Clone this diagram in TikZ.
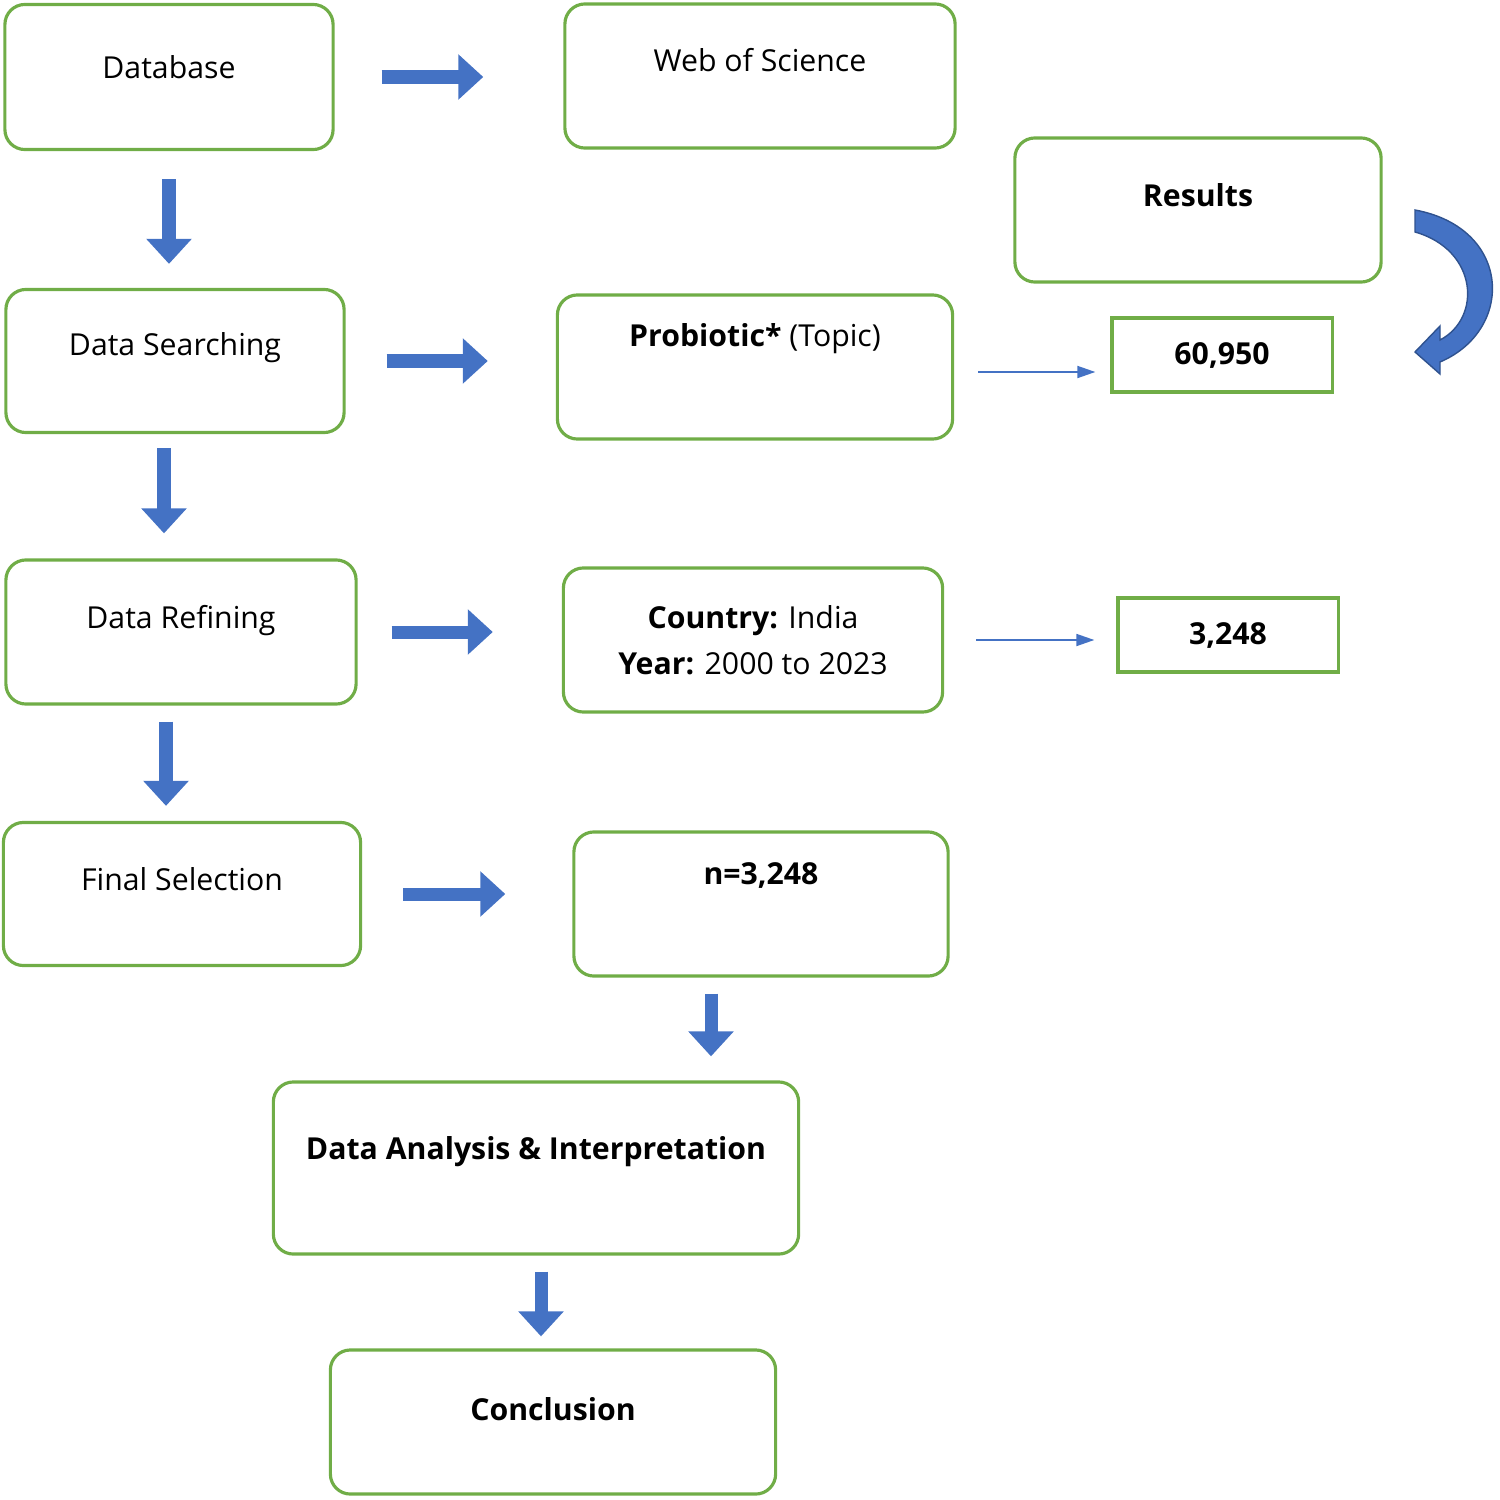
\documentclass[tikz,border=0pt]{standalone}
\usepackage{fontspec}
\setmainfont{Open Sans}
\usetikzlibrary{arrows.meta}
\definecolor{boxgreen}{HTML}{70AD47}
\definecolor{arrowblue}{HTML}{4472C4}
\definecolor{arrowdark}{HTML}{2F528F}

\begin{document}
\begin{tikzpicture}[x=0.01cm,y=-0.01cm
  ,font=\fontsize{8.6}{11}\selectfont
  ,stepbox/.style={draw=boxgreen,line width=0.9pt,rounded corners=0.2cm,
    inner sep=0pt,minimum width=#1}
  ,countbox/.style={draw=boxgreen,line width=0.9pt,inner sep=0pt,
    minimum width=2.2cm,minimum height=0.74cm,font=\fontsize{8.6}{11}\selectfont\bfseries}
  ,bigarrow/.style={draw=arrowblue,line width=0.13cm,
    -{Triangle[length=0.25cm,width=0.44cm]}}
  ,thinarrow/.style={arrowblue,line width=0.5pt,-{Triangle[length=0.18cm,width=0.12cm]}}
  ]
  \useasboundingbox (0,0) rectangle (1499,1500);

  % left column
  \node[stepbox=3.28cm,minimum height=1.45cm,label={[yshift=0.1cm]center:Database}]
    (db) at (169,77) {};
  \node[stepbox=3.38cm,minimum height=1.43cm,label={[yshift=0.13cm]center:Data Searching}]
    (search) at (175,361) {};
  \node[stepbox=3.5cm,minimum height=1.44cm,label={[yshift=0.11cm]center:Data Refining}]
    (refine) at (181,632) {};
  \node[stepbox=3.57cm,minimum height=1.43cm,label={[yshift=0.15cm]center:Final Selection}]
    (final) at (182,894) {};

  % middle column
  \node[stepbox=3.9cm,minimum height=1.44cm,label={[yshift=0.16cm]center:Web of Science}]
    (wos) at (760,76) {};
  \node[stepbox=3.95cm,minimum height=1.44cm,
    label={[yshift=0.28cm]center:\textbf{Probiotic*} (Topic)}]
    (topic) at (755,367) {};
  \node[stepbox=3.79cm,minimum height=1.44cm,
    label={[yshift=0.0cm,align=center]center:\textbf{Country:} India\\[2pt]\textbf{Year:} 2000 to 2023}]
    (refined) at (753,640) {};
  \node[stepbox=3.74cm,minimum height=1.44cm,label={[yshift=0.28cm]center:\textbf{n=3,248}}]
    (nsel) at (761,904) {};
  \node[stepbox=5.25cm,minimum height=1.72cm,
    label={[yshift=0.16cm]center:\textbf{Data Analysis \& Interpretation}}]
    (analysis) at (536,1168) {};
  \node[stepbox=4.45cm,minimum height=1.44cm,label={[yshift=0.13cm]center:\textbf{Conclusion}}]
    (concl) at (553,1422) {};

  % right column
  \node[stepbox=3.66cm,minimum height=1.44cm,label={[yshift=0.15cm]center:\textbf{Results}}]
    (results) at (1198,210) {};
  \node[countbox] (hits) at (1222,355) {60,950};
  \node[countbox] (refhits) at (1228,635) {3,248};

  % block arrows
  \foreach \a/\b/\s/\e in {db/wos/0.47/0.8,search/topic/0.41/0.68,
                           refine/refined/0.34/0.69,final/nsel/0.41/0.67}
    \draw[bigarrow,shorten <=\s cm,shorten >=\e cm] (\a.east) -- (\a.east -| \b.west);
  \draw[bigarrow,shorten <=0.28cm,shorten >=0.24cm]
    (db.south) -- (search.north -| db.south);
  \draw[bigarrow,shorten <=0.14cm,shorten >=0.25cm]
    (search.south -| 164,0) -- (refine.north -| 164,0);
  \draw[bigarrow,shorten <=0.16cm,shorten >=0.15cm]
    (refine.south -| 166,0) -- (final.north -| 166,0);
  \draw[bigarrow,shorten <=0.16cm,shorten >=0.24cm]
    (nsel.south -| 711,0) -- (analysis.north -| 711,0);
  \draw[bigarrow,shorten <=0.16cm,shorten >=0.12cm]
    (analysis.south -| 541,0) -- (concl.north -| 541,0);

  % thin arrows
  \draw[thinarrow,shorten <=0.24cm,shorten >=0.15cm] (topic.east |- 0,372) -- (hits.west |- 0,372);
  \draw[thinarrow,shorten <=0.32cm,shorten >=0.22cm] (refined.east) -- (refhits.west |- refined.east);

  % curved arrow
  \fill[arrowblue,draw=arrowdark,line width=0.4pt]
    (1415,210) -- (1415,232) .. controls (1478,250) and (1482,318) .. (1440,340)
    -- (1440,326) -- (1415,352) -- (1440,374) -- (1440,362)
    .. controls (1515,330) and (1512,228) .. (1415,210) -- cycle;
\end{tikzpicture}
\end{document}
